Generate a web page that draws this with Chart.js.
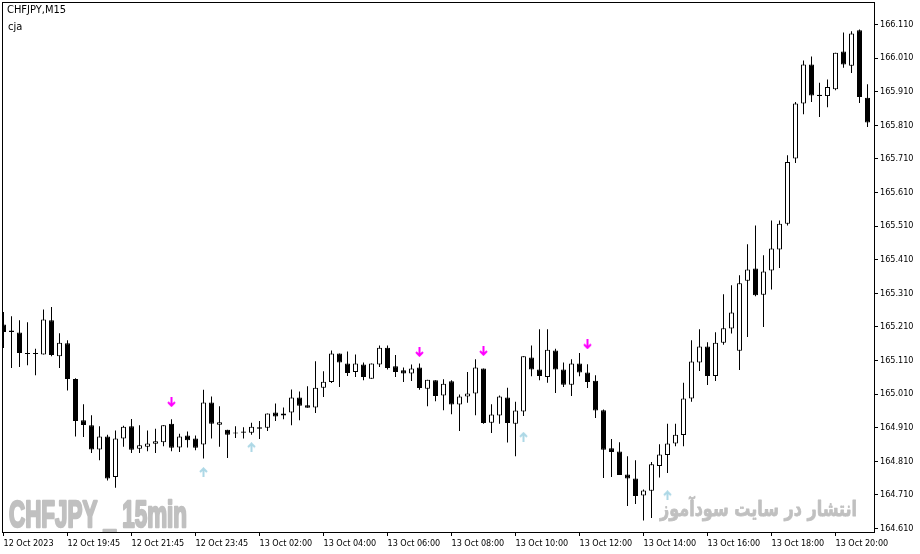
<!DOCTYPE html>
<html>
<head>
<meta charset="utf-8">
<title>CHFJPY,M15</title>
<script src="https://cdn.jsdelivr.net/npm/chart.js@4.4.1/dist/chart.umd.min.js"></script>
<style>
  html, body { margin: 0; padding: 0; background: #fff; overflow: hidden; }
</style>
</head>
<body>
<canvas id="chart" width="920" height="554"></canvas>
<script>
// CHFJPY M15 bars, 12 Oct 17:45 .. 13 Oct 21:00 (one entry per bar)
const open = [
  165.217, 165.199, 165.193, 165.131, 165.131, 165.128, 165.230, 165.123, 165.161, 165.055,
  164.932, 164.917, 164.845, 164.884, 164.763, 164.878, 164.914, 164.847, 164.853, 164.862,
  164.867, 164.922, 164.851, 164.887, 164.878, 164.860, 164.985, 164.919, 164.904, 164.896,
  164.899, 164.895, 164.911, 164.910, 164.955, 164.946, 164.955, 165.000, 164.977, 164.970,
  165.029, 165.046, 165.131, 165.101, 165.076, 165.098, 165.056, 165.098, 165.148, 165.093,
  165.081, 165.071, 165.089, 165.026, 165.051, 165.006, 165.048, 164.979, 165.003, 165.012,
  165.086, 164.925, 164.946, 165.000, 164.922, 164.958, 165.119, 165.083, 165.061, 165.140,
  165.083, 165.038, 165.101, 165.074, 165.050, 164.962, 164.849, 164.839, 164.771, 164.759,
  164.708, 164.722, 164.796, 164.829, 164.863, 164.888, 164.997, 165.104, 165.152, 165.064,
  165.163, 165.205, 165.139, 165.347, 165.384, 165.306, 165.378, 165.440, 165.517, 165.711,
  165.875, 165.991, 165.901, 165.897, 165.917, 166.030, 165.987, 166.093, 165.892
];
const high = [
  165.254, 165.242, 165.230, 165.224, 165.145, 165.262, 165.269, 165.191, 165.170, 165.057,
  164.980, 164.947, 164.914, 164.889, 164.902, 164.916, 164.936, 164.917, 164.902, 164.907,
  164.917, 164.935, 164.892, 164.899, 164.887, 165.023, 165.003, 164.974, 164.904, 164.914,
  164.911, 164.925, 164.930, 164.952, 164.982, 164.970, 165.024, 165.018, 165.033, 165.108,
  165.078, 165.140, 165.131, 165.137, 165.128, 165.104, 165.101, 165.155, 165.155, 165.126,
  165.089, 165.098, 165.101, 165.053, 165.051, 165.054, 165.051, 165.009, 165.076, 165.114,
  165.086, 164.980, 165.006, 165.029, 164.987, 165.123, 165.155, 165.203, 165.203, 165.145,
  165.104, 165.114, 165.132, 165.099, 165.066, 164.964, 164.876, 164.867, 164.825, 164.813,
  164.726, 164.808, 164.861, 164.922, 164.922, 165.044, 165.170, 165.203, 165.164, 165.194,
  165.307, 165.334, 165.364, 165.456, 165.512, 165.423, 165.527, 165.527, 165.721, 165.879,
  166.003, 166.015, 165.937, 165.946, 166.026, 166.086, 166.090, 166.095, 165.932
];
const low = [
  165.147, 165.088, 165.091, 165.096, 165.066, 165.128, 165.123, 165.088, 165.021, 164.884,
  164.882, 164.835, 164.813, 164.753, 164.731, 164.853, 164.835, 164.835, 164.840, 164.835,
  164.855, 164.840, 164.838, 164.851, 164.843, 164.818, 164.878, 164.853, 164.820, 164.879,
  164.878, 164.889, 164.876, 164.900, 164.930, 164.935, 164.917, 164.932, 164.969, 164.954,
  165.001, 165.043, 165.031, 165.064, 165.061, 165.051, 165.056, 165.091, 165.083, 165.061,
  165.046, 165.049, 165.023, 164.974, 164.989, 164.962, 164.950, 164.900, 164.984, 164.947,
  164.922, 164.894, 164.922, 164.866, 164.825, 164.945, 165.063, 165.051, 165.044, 165.013,
  165.031, 165.004, 165.063, 165.028, 164.939, 164.760, 164.763, 164.769, 164.677, 164.683,
  164.634, 164.641, 164.762, 164.775, 164.855, 164.855, 164.987, 165.079, 165.037, 165.049,
  165.157, 165.190, 165.082, 165.180, 165.301, 165.210, 165.321, 165.385, 165.512, 165.698,
  165.843, 165.879, 165.835, 165.864, 165.914, 165.981, 165.966, 165.876, 165.805
];
const close = [
  165.195, 165.195, 165.132, 165.129, 165.129, 165.232, 165.126, 165.163, 165.055, 164.930,
  164.918, 164.845, 164.884, 164.759, 164.878, 164.913, 164.844, 164.858, 164.863, 164.870,
  164.917, 164.850, 164.884, 164.873, 164.850, 164.985, 164.922, 164.926, 164.889, 164.893,
  164.895, 164.913, 164.907, 164.952, 164.943, 164.952, 165.000, 164.975, 164.969, 165.029,
  165.047, 165.131, 165.104, 165.073, 165.101, 165.061, 165.101, 165.148, 165.088, 165.076,
  165.071, 165.086, 165.028, 165.053, 165.004, 165.041, 164.979, 165.003, 165.012, 165.089,
  164.924, 164.949, 165.003, 164.924, 164.961, 165.123, 165.083, 165.064, 165.142, 165.083,
  165.038, 165.101, 165.074, 165.046, 164.961, 164.844, 164.838, 164.769, 164.759, 164.707,
  164.723, 164.801, 164.830, 164.863, 164.889, 164.997, 165.107, 165.152, 165.064, 165.163,
  165.206, 165.253, 165.340, 165.381, 165.304, 165.375, 165.443, 165.517, 165.701, 165.875,
  165.991, 165.899, 165.897, 165.924, 166.026, 165.991, 166.083, 165.894, 165.818
];

// cja indicator signals: bar index and price where the arrow sits
const sellBars = [21, 52, 60, 73];
const sellPrices = [164.986, 165.135, 165.138, 165.158];
const buyBars = [25, 31, 65, 83];
const buyPrices = [164.778, 164.852, 164.883, 164.709];

// time axis: a label every 8 bars
const xTickBars = [0, 8, 16, 24, 32, 40, 48, 56, 64, 72, 80, 88, 96, 104];
const xTickLabels = [
  '12 Oct 2023', '12 Oct 19:45', '12 Oct 21:45', '12 Oct 23:45', '13 Oct 02:00',
  '13 Oct 04:00', '13 Oct 06:00', '13 Oct 08:00', '13 Oct 10:00', '13 Oct 12:00',
  '13 Oct 14:00', '13 Oct 16:00', '13 Oct 18:00', '13 Oct 20:00'
];
const yTicks = [
  164.61, 164.71, 164.81, 164.91, 165.01, 165.11, 165.21, 165.31,
  165.41, 165.51, 165.61, 165.71, 165.81, 165.91, 166.01, 166.11
];

const UI_FONT = '"DejaVu Sans Condensed", "DejaVu Sans", sans-serif';

function arrowImage(color, up) {
  const c = document.createElement('canvas');
  c.width = 9;
  c.height = 10;
  const g = c.getContext('2d');
  g.strokeStyle = color;
  g.lineWidth = 2;
  g.beginPath();
  if (up) {
    g.moveTo(4.5, 10); g.lineTo(4.5, 1.5);
    g.moveTo(1, 5); g.lineTo(4.5, 1.5); g.lineTo(8, 5);
  } else {
    g.moveTo(4.5, 0); g.lineTo(4.5, 8.5);
    g.moveTo(1, 5); g.lineTo(4.5, 8.5); g.lineTo(8, 5);
  }
  g.stroke();
  return c;
}

// squeeze text horizontally so it spans the given width, thickened by a stroke
function fittedText(ctx, text, font, x, y, width, weight) {
  ctx.font = font;
  const w = ctx.measureText(text).width;
  ctx.save();
  ctx.translate(x, y);
  ctx.scale(width / w, 1);
  ctx.fillText(text, 0, 0);
  if (weight) {
    ctx.lineWidth = weight;
    ctx.lineJoin = 'round';
    ctx.strokeText(text, 0, 0);
  }
  ctx.restore();
}

const decorations = {
  id: 'decorations',
  beforeDatasetsDraw(chart) {
    const { ctx } = chart;
    ctx.save();
    ctx.fillStyle = '#c0c0c0';
    ctx.strokeStyle = '#c0c0c0';
    ctx.textBaseline = 'alphabetic';
    ctx.textAlign = 'left';
    fittedText(ctx, 'CHFJPY _ 15min', 'bold 36px "Liberation Sans", sans-serif', 9, 527, 178, 2.5);
    fittedText(ctx, 'انتشار در سایت سودآموز', 'bold 21px "DejaVu Sans", sans-serif', 660, 516, 197, 0.8);
    ctx.restore();
  },
  afterDraw(chart) {
    const { ctx, chartArea: a } = chart;
    ctx.save();
    ctx.strokeStyle = '#000';
    ctx.lineWidth = 1;
    ctx.strokeRect(a.left + 0.5, a.top + 0.5, a.right - a.left, a.bottom - a.top);
    ctx.fillStyle = '#000';
    ctx.font = '11px ' + UI_FONT;
    ctx.textBaseline = 'middle';
    ctx.fillText('CHFJPY,M15', 7, 10);
    ctx.fillText('cja', 8, 27);
    ctx.restore();
  }
};

const bars = open.map((o, i) => i);
const isUp = (i) => close[i] > open[i];

new Chart(document.getElementById('chart'), {
  type: 'bar',
  data: {
    datasets: [
      {
        type: 'scatter',
        data: sellBars.map((b, k) => ({ x: b, y: sellPrices[k] })),
        pointStyle: arrowImage('#ff00ff', false),
        order: -2
      },
      {
        type: 'scatter',
        data: buyBars.map((b, k) => ({ x: b, y: buyPrices[k] })),
        pointStyle: arrowImage('#add8e6', true),
        order: -1
      },
      {
        // candle bodies
        data: bars.map((i) => ({ x: i, y: [open[i], close[i]] })),
        backgroundColor: (c) => (isUp(c.dataIndex) ? '#ffffff' : '#000000'),
        borderColor: '#000000',
        borderWidth: 1,
        borderSkipped: false,
        barThickness: 5,
        minBarLength: 1,
        inflateAmount: 0,
        grouped: false,
        order: 0
      },
      {
        // wicks
        data: bars.map((i) => ({ x: i, y: [low[i], high[i]] })),
        backgroundColor: '#000000',
        borderWidth: 0,
        barThickness: 1,
        inflateAmount: 0,
        grouped: false,
        order: 1
      }
    ]
  },
  options: {
    responsive: false,
    devicePixelRatio: 1,
    animation: false,
    events: [],
    layout: { autoPadding: false, padding: { left: 2, top: 2, right: 0, bottom: 0 } },
    plugins: { legend: { display: false }, tooltip: { enabled: false } },
    scales: {
      x: {
        type: 'linear',
        min: -0.1875,
        max: 108.8125,
        offset: false,
        border: { display: false },
        grid: { offset: false, drawOnChartArea: false, drawTicks: true, tickLength: 4, color: '#000' },
        afterBuildTicks: (s) => { s.ticks = xTickBars.map((v) => ({ value: v })); },
        afterFit: (s) => { s.height = 22; s.paddingLeft = 0; s.paddingRight = 0; },
        ticks: {
          autoSkip: false,
          maxRotation: 0,
          align: 'start',
          padding: 2,
          color: '#000',
          font: { family: UI_FONT, size: 9 },
          callback: (v, idx) => xTickLabels[idx]
        }
      },
      y: {
        position: 'right',
        min: 164.59958,
        max: 166.17696,
        border: { display: false },
        grid: { drawOnChartArea: false, drawTicks: true, tickLength: 4, color: '#000' },
        afterBuildTicks: (s) => { s.ticks = yTicks.map((v) => ({ value: v })); },
        afterFit: (s) => { s.width = 46; s.paddingTop = 0; s.paddingBottom = 0; },
        ticks: {
          padding: 2,
          color: '#000',
          font: { family: UI_FONT, size: 9 },
          callback: (v) => v.toFixed(3)
        }
      }
    }
  },
  plugins: [decorations]
});
</script>
</body>
</html>
